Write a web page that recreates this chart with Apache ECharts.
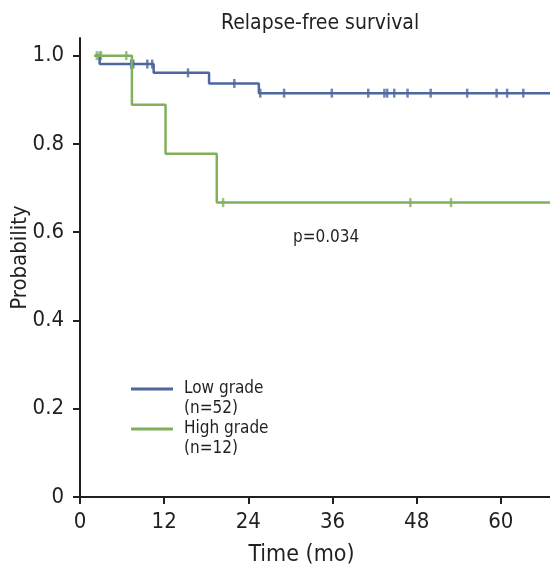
<!DOCTYPE html>
<html lang="en">
<head>
    <meta charset="UTF-8">
    <title>Relapse-free survival</title>
    <script src="https://cdn.jsdelivr.net/npm/echarts@6/dist/echarts.min.js"></script>
    <style>
        body { margin: 0; background: #fff; }
        #main { width: 550px; height: 564px; }
    </style>
</head>
<body>
    <div id="main"></div>
    <script>
        // Kaplan-Meier steps: [time (mo), survival]
        const lowSteps = [[2.2, 1.0], [2.8, 0.981], [10.5, 0.961], [18.4, 0.937], [25.5, 0.915], [72, 0.915]];
        const highSteps = [[2.0, 1.0], [7.4, 0.889], [12.2, 0.778], [19.5, 0.667], [72, 0.667]];
        // censored times
        const lowCensor = [7.3, 7.6, 9.6, 10.3, 15.4, 22.0, 25.7, 29.1, 35.9, 41.1, 43.4, 43.8, 44.8, 46.7, 50.0, 55.2, 59.4, 60.9, 63.2];
        const highCensor = [2.4, 2.8, 3.0, 6.6, 20.4, 47.1, 52.9];
        const xTicks = [0, 12, 24, 36, 48, 60];
        const yTicks = [0, 0.2, 0.4, 0.6, 0.8, 1.0];

        var font = "'Liberation Sans Narrow', 'DejaVu Sans Condensed', 'Roboto Condensed', Roboto, sans-serif";
        var ink = '#231f20';
        var blue = '#4d679f';
        var green = '#80b05c';

        function survAt(steps, t) {
            var v = steps[0][1];
            steps.forEach(function (s) { if (s[0] <= t) v = s[1]; });
            return v;
        }
        function marks(steps, times) {
            return times.map(function (t) { return [t, survAt(steps, t)]; });
        }

        var myChart = echarts.init(document.getElementById('main'));

        var option = {
            animation: false,
            textStyle: { fontFamily: font },
            title: {
                text: 'Relapse-free survival',
                left: 216,
                top: 8,
                textStyle: { fontFamily: font, fontSize: 21, fontWeight: 'normal', color: ink }
            },
            legend: {
                left: 131,
                top: 359,
                orient: 'vertical',
                padding: 0,
                itemGap: -20,
                itemWidth: 42,
                itemHeight: 3,
                icon: 'rect',
                data: ['Low grade', 'High grade'],
                formatter: function (name) {
                    return name === 'Low grade' ? '\nLow grade\n(n=52)' : '\nHigh grade\n(n=12)';
                },
                textStyle: { fontFamily: font, fontSize: 17, color: ink, lineHeight: 20, padding: [0, 0, 0, 6] }
            },
            graphic: [{
                type: 'text',
                left: 293,
                top: 229,
                style: { text: 'p=0.034', font: '17px ' + font, fill: ink }
            }],
            grid: { left: 80, right: -35, top: 38, bottom: 67, outerBoundsMode: 'none', containLabel: false },
            xAxis: {
                type: 'value',
                min: 0,
                max: 72,
                name: 'Time (mo)',
                nameLocation: 'middle',
                nameGap: 47,
                nameMoveOverlap: false,
                nameTextStyle: { fontFamily: font, fontSize: 23, color: ink, padding: [0, 62, 0, 0] },
                axisLine: { show: true, lineStyle: { color: ink, width: 2 } },
                axisTick: { show: true, inside: false, customValues: xTicks, length: 7, lineStyle: { color: ink, width: 2 } },
                axisLabel: { customValues: xTicks, fontSize: 22, color: ink, margin: 14 },
                splitLine: { show: false }
            },
            yAxis: {
                type: 'value',
                min: 0,
                max: 1.04,
                name: 'Probability',
                nameLocation: 'middle',
                nameRotate: 90,
                nameGap: 49,
                nameMoveOverlap: false,
                nameTextStyle: { fontFamily: font, fontSize: 22, color: ink, padding: [0, 0, 0, 20] },
                axisLine: { show: true, lineStyle: { color: ink, width: 2 } },
                axisTick: { show: true, inside: false, customValues: yTicks, length: 7, lineStyle: { color: ink, width: 2 } },
                axisLabel: {
                    customValues: yTicks, fontSize: 22, color: ink, margin: 16,
                    formatter: function (v) { return v === 0 ? '0' : v.toFixed(1); }
                },
                splitLine: { show: false }
            },
            series: [
                {
                    name: 'Low grade', type: 'line', step: 'end', showSymbol: false,
                    color: blue, lineStyle: { width: 2.5 }, data: lowSteps
                },
                {
                    name: 'High grade', type: 'line', step: 'end', showSymbol: false,
                    color: green, lineStyle: { width: 2.5 }, data: highSteps
                },
                {
                    name: 'Low censor', type: 'scatter', symbol: 'rect', symbolSize: [2.5, 9],
                    color: blue, data: marks(lowSteps, lowCensor)
                },
                {
                    name: 'High censor', type: 'scatter', symbol: 'rect', symbolSize: [2.5, 9],
                    color: green, data: marks(highSteps, highCensor)
                }
            ]
        };

        option && myChart.setOption(option);
    </script>
</body>
</html>
